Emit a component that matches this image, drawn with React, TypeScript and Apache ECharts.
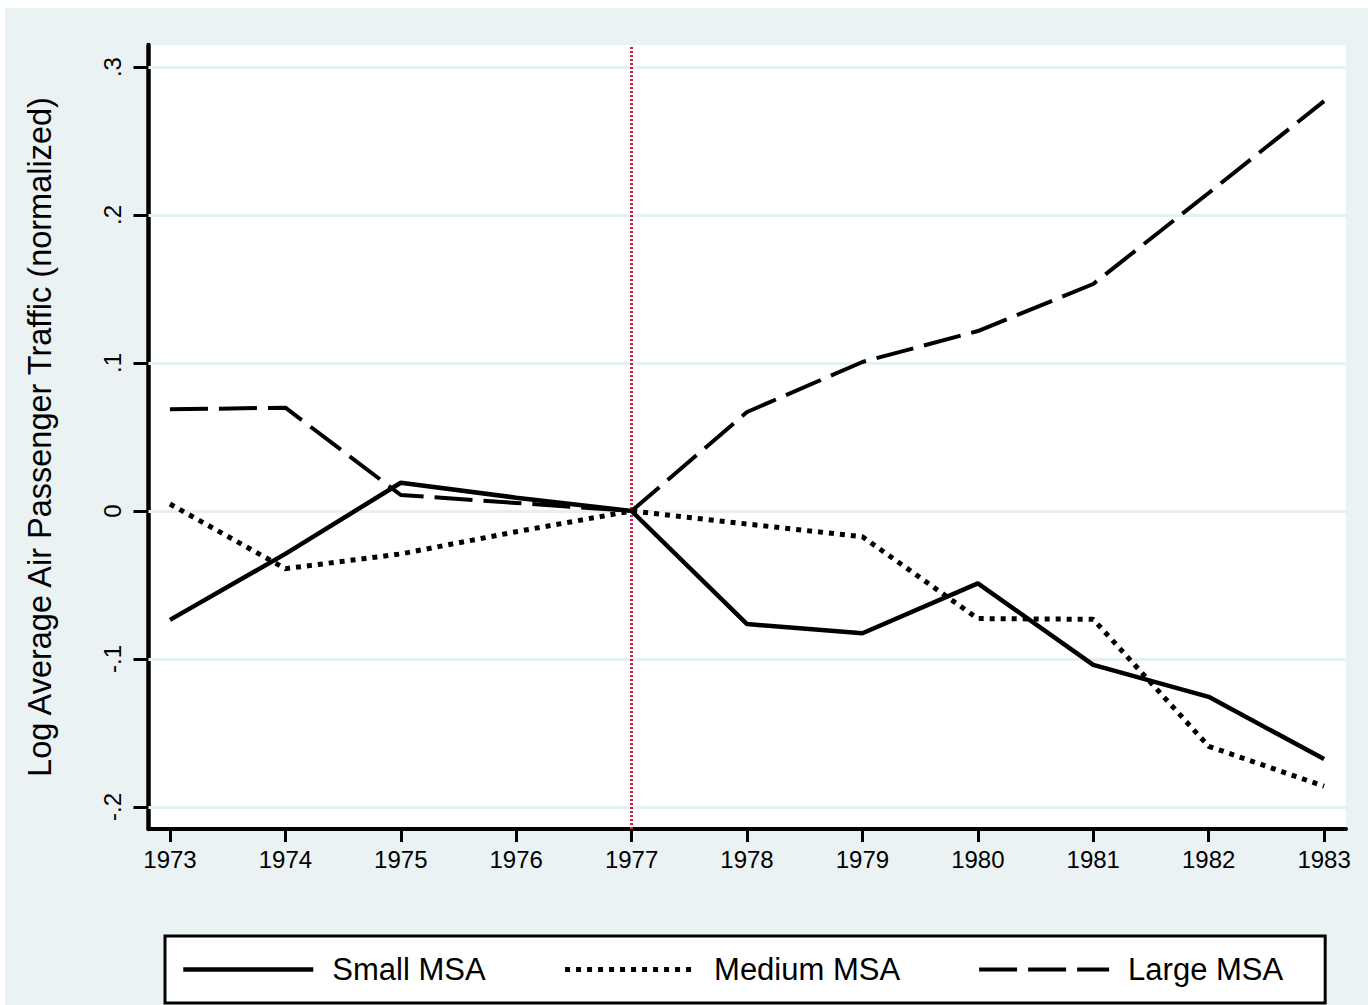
import React, { useEffect, useRef } from "react";
import * as echarts from "echarts";

const years = [1973, 1974, 1975, 1976, 1977, 1978, 1979, 1980, 1981, 1982, 1983];
const yTicks = [-0.2, -0.1, 0, 0.1, 0.2, 0.3];
const smallMSA = [-0.0736, -0.029, 0.0191, 0.009, 0, -0.0764, -0.0826, -0.0489, -0.104, -0.1256, -0.1676];
const mediumMSA = [0.0047, -0.039, -0.029, -0.014, 0, -0.0088, -0.0174, -0.0727, -0.0732, -0.159, -0.186];
const largeMSA = [0.0687, 0.0698, 0.0108, 0.0054, 0, 0.0669, 0.1007, 0.1216, 0.1534, 0.2149, 0.277];
const seriesNames = ["Small MSA", "Medium MSA", "Large MSA"];
const policyYear = 1977;

const FONT = "'Liberation Sans', Arial, Helvetica, sans-serif";

const fmtY = (v: number) => {
  const r = Math.round(v * 10) / 10;
  if (r === 0) return "0";
  return r.toFixed(1).replace("0.", ".");
};

export default function App() {
  const ref = useRef<HTMLDivElement>(null);
  useEffect(() => {
    if (!ref.current) return;
    const chart = echarts.init(ref.current, undefined, { renderer: "svg" });
    const pair = (vals: number[]) => years.map((y, i) => [y, vals[i]]);
    chart.setOption({
      animation: false,
      backgroundColor: "#eaf2f3",
      textStyle: { fontFamily: FONT, color: "#000" },
      grid: {
        left: 143.5,
        top: 37,
        right: 22,
        bottom: 176,
        show: true,
        backgroundColor: "#ffffff",
        borderWidth: 0,
      },
      xAxis: {
        type: "value",
        min: 1972.814,
        max: 1983.19,
        axisLine: { show: true, onZero: false, lineStyle: { color: "#000", width: 4 } },
        axisTick: { show: true, customValues: years, length: 13, lineStyle: { color: "#000", width: 3 } },
        axisLabel: {
          customValues: years,
          formatter: (v: number) => String(Math.round(v)),
          fontSize: 24,
          color: "#000",
          fontFamily: FONT,
          margin: 18,
        },
        splitLine: { show: false },
      },
      yAxis: {
        type: "value",
        min: -0.2149,
        max: 0.3149,
        name: "Log Average Air Passenger Traffic (normalized)",
        nameLocation: "middle",
        nameRotate: 90,
        nameGap: 92,
        nameTextStyle: { fontSize: 32.5, color: "#000", fontFamily: FONT },
        axisLine: { show: true, onZero: false, lineStyle: { color: "#000", width: 4.5 } },
        axisTick: { show: true, customValues: yTicks, length: 15, lineStyle: { color: "#000", width: 3 } },
        axisLabel: {
          customValues: yTicks,
          formatter: fmtY,
          rotate: 90,
          fontSize: 24,
          color: "#000",
          fontFamily: FONT,
          margin: 24,
        },
        splitLine: { show: false },
      },
      legend: {
        data: seriesNames,
        left: 160,
        top: 928,
        orient: "horizontal",
        itemWidth: 130,
        itemHeight: 14,
        itemGap: 77,
        padding: [18, 42, 18, 16],
        backgroundColor: "#ffffff",
        borderColor: "#000",
        borderWidth: 3,
        borderRadius: 0,
        selectedMode: false,
        itemStyle: { opacity: 0, borderWidth: 0 },
        lineStyle: { width: "inherit", type: "inherit", color: "inherit" },
        textStyle: { fontSize: 31, color: "#000", fontFamily: FONT, padding: [0, 0, 0, 14] },
      },
      series: [
        {
          name: "refs",
          type: "line",
          data: [],
          silent: true,
          markLine: {
            silent: true,
            symbol: "none",
            z: 1,
            label: { show: false },
            emphasis: { disabled: true },
            data: [
              ...yTicks.map((v) => ({ yAxis: v, lineStyle: { color: "#e6f0f1", width: 3, type: "solid" } })),
              { xAxis: policyYear, lineStyle: { color: "#cc2244", width: 3, type: [2, 2] } },
            ],
          },
        },
        {
          name: seriesNames[0],
          type: "line",
          data: pair(smallMSA),
          symbol: "none",
          z: 3,
          color: "#000",
          lineStyle: { color: "#000", width: 4.5, type: "solid" },
        },
        {
          name: seriesNames[1],
          type: "line",
          data: pair(mediumMSA),
          symbol: "none",
          z: 3,
          color: "#000",
          lineStyle: { color: "#000", width: 5, type: [5, 6], cap: "butt" },
        },
        {
          name: seriesNames[2],
          type: "line",
          data: pair(largeMSA),
          symbol: "none",
          z: 3,
          color: "#000",
          lineStyle: { color: "#000", width: 4, type: [38, 11], cap: "butt" },
        },
      ],
    });
    return () => chart.dispose();
  }, []);
  return (
    <div
      ref={ref}
      style={{ position: "absolute", left: 5, top: 8, width: 1363, height: 997 }}
    />
  );
}
